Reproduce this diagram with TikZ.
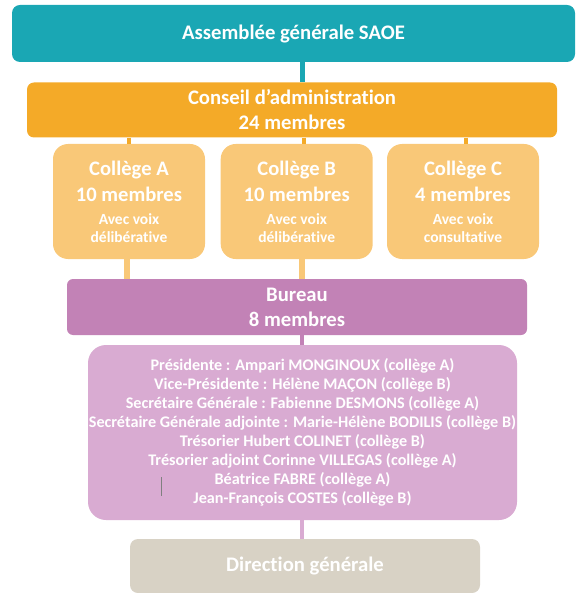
\documentclass[tikz,border=0pt]{standalone}
\usepackage{fontspec}
\setmainfont{Carlito}[Ligatures=NoCommon]
\usetikzlibrary{positioning}
\definecolor{saoeteal}{RGB}{26,167,180}
\definecolor{saoeorange}{RGB}{244,170,40}
\definecolor{saoelight}{RGB}{249,200,120}
\definecolor{saoebureau}{RGB}{194,130,182}
\definecolor{saoemembres}{RGB}{217,171,210}
\definecolor{saoebeige}{RGB}{216,210,197}
\tikzset{
    mynode/.style = {align=center, inner sep=0pt, text=white, font=\bfseries\fontsize{20.7}{25}\selectfont},
    mynodet/.style = {mynode, rounded corners=8pt, fill=saoeteal},
    mynodeo/.style = {mynode, rounded corners=7pt, fill=saoeorange},
    mynodel/.style = {mynode, rounded corners=15pt, fill=saoelight, minimum width=152pt, minimum height=115pt, font=\bfseries\fontsize{20.6}{26}\selectfont},
    mynodep/.style = {mynode, rounded corners=6pt, fill=saoebureau},
    mynodem/.style = {mynode, rounded corners=18pt, fill=saoemembres, font=\bfseries\fontsize{16.2}{19}\selectfont},
    mynodeg/.style = {mynode, rounded corners=8pt, fill=saoebeige},
    edget/.style = {-,line width=5pt,saoeteal},
    edgeo/.style = {-,line width=4pt,saoeorange},
    edgel/.style = {-,line width=6pt,saoelight},
    edgep/.style = {-,line width=4pt,saoebureau},
    edgem/.style = {-,line width=4pt,saoemembres}
}
\newcommand{\petit}[1]{{\fontsize{15.5}{18}\selectfont #1}}

\begin{document}
\begin{tikzpicture}[x=1pt,y=-1pt]
%
\node[mynodet, minimum width=563pt, minimum height=57pt] at (293.5,33.5) (ag) {Assemblée générale SAOE};
\node[mynodeo, minimum width=530pt, minimum height=55pt] at (292,110) (ca) {Conseil d’administration\\24 membres};
\node[mynodel] at (129,201.5) (cola) {Collège A\\10 membres\\[-3.3pt]\petit{Avec voix}\\[-8pt]\petit{délibérative}};
\node[mynodel] at (296.7,201.5) (colb) {Collège B\\10 membres\\[-3.3pt]\petit{Avec voix}\\[-8pt]\petit{délibérative}};
\node[mynodel] at (463,201.5) (colc) {Collège C\\4 membres\\[-3.3pt]\petit{Avec voix}\\[-8pt]\petit{consultative}};
\node[mynodep, minimum width=460pt, minimum height=56pt] at (297,307) (bureau) {Bureau\\8 membres};
\node[mynodem, minimum width=429pt, minimum height=175pt] at (302.5,432.5) (membres) {%
Présidente : Ampari MONGINOUX (collège A)\\
Vice-Présidente : Hélène MAÇON (collège B)\\
Secrétaire Générale : Fabienne DESMONS (collège A)\\
Secrétaire Générale adjointe : Marie-Hélène BODILIS (collège B)\\
Trésorier Hubert COLINET (collège B)\\
Trésorier adjoint Corinne VILLEGAS (collège A)\\
Béatrice FABRE (collège A)\\
Jean-François COSTES (collège B)};
\node[mynodeg, minimum width=350pt, minimum height=54pt] at (305,566) (dg) {Direction générale};
%
\coordinate (xa) at (129,0);
\coordinate (xb) at (304,0);
\coordinate (xc) at (466,0);
\coordinate (xm) at (302,0);
\coordinate (xla) at (127,0);
%
\draw[edget] (ag.south -| xm) edge (ca.north -| xm);
\draw[edgeo] (ca.south -| xa) edge (cola.north -| xa);
\draw[edgeo] (ca.south -| xb) edge (colb.north -| xb);
\draw[edgeo] (ca.south -| xc) edge (colc.north -| xc);
\draw[edgel] (cola.south -| xla) edge (bureau.north -| xla);
\draw[edgel] (colb.south -| xm) edge (bureau.north -| xm);
\draw[edgep] (bureau.south -| xm) edge (membres.north -| xm);
\draw[edgem] (membres.south -| xm) edge (dg.north -| xm);
%
\draw[gray, line width=0.8pt] (161,477) -- (161,496);

\path[use as bounding box] (0,0) rectangle (563,593);

\end{tikzpicture}
\end{document}
